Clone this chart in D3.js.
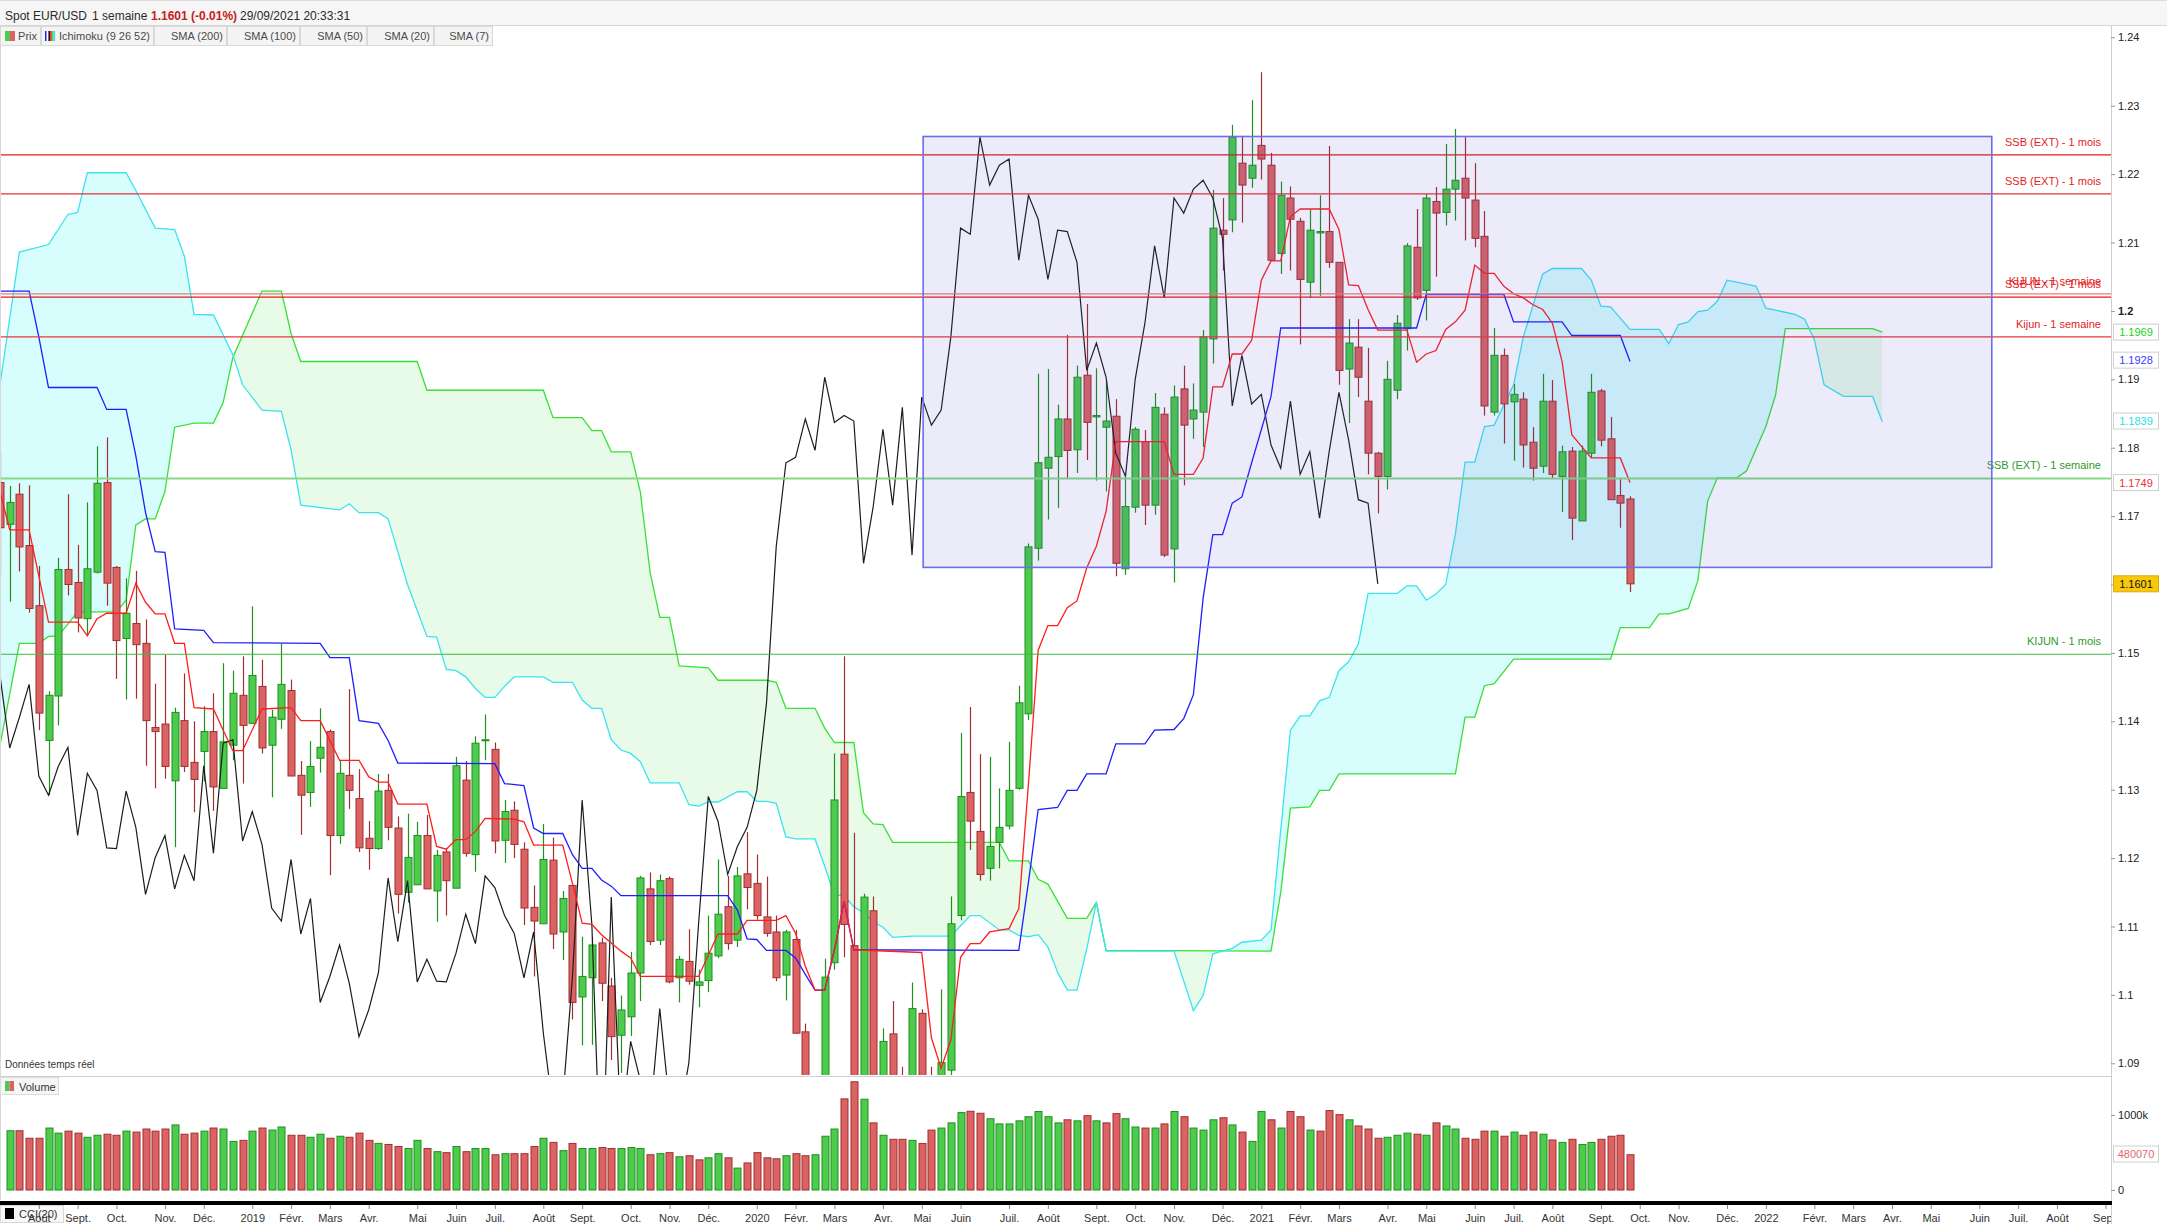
<!DOCTYPE html>
<html>
<head>
<meta charset="utf-8">
<script src="https://cdn.jsdelivr.net/npm/d3@7"></script>
<style>
  body { margin: 0; background: #fff; }
  svg { display: block; font-family: "Liberation Sans", Arial, sans-serif; }
</style>
</head>
<body>
<div id="chart"></div>
<script>
(function () {
    // weekly bars, index 0 = week of 9 July 2018
    const firstWeek = new Date(2018, 6, 9);

    const opens = [1.1749,1.1688,1.1732,1.1657,1.1569,1.1372,1.1437,1.1622,1.1603,1.1550,
        1.1618,1.1749,1.1625,1.1521,1.1543,1.1514,1.1391,1.1396,1.1313,1.1401,
        1.1340,1.1356,1.1385,1.1302,1.1365,1.1438,1.1397,1.1451,1.1365,1.1403,
        1.1445,1.1321,1.1296,1.1346,1.1385,1.1233,1.1321,1.1287,1.1229,1.1214,
        1.1299,1.1244,1.1150,1.1161,1.1233,1.1152,1.1209,1.1156,1.1314,1.1205,
        1.1372,1.1359,1.1226,1.1270,1.1213,1.1128,1.1104,1.1197,1.1092,1.1160,
        1.0997,1.1025,1.1076,1.1013,1.0941,1.0968,1.1032,1.1155,1.1080,1.1170,
        1.1025,1.1049,1.1014,1.1021,1.1057,1.1129,1.1080,1.1177,1.1163,1.1114,
        1.1092,1.1029,1.1081,1.0946,1.0831,1.0845,1.1047,1.1352,1.1072,1.0692,
        1.1123,1.0800,1.0943,1.0875,1.0822,1.0973,1.0840,1.0818,1.0890,1.1116,
        1.1296,1.1239,1.1185,1.1223,1.1247,1.1302,1.1411,1.1653,1.1770,1.1787,
        1.1842,1.1797,1.1906,1.1845,1.1830,1.1846,1.1623,1.1713,1.1809,1.1716,
        1.1849,1.1652,1.1886,1.1842,1.1852,1.1959,1.2118,1.2133,1.2216,1.2194,
        1.2242,1.2213,1.2084,1.2165,1.2131,1.2042,1.2114,1.2116,1.2071,1.1915,
        1.1947,1.1868,1.1792,1.1758,1.1884,1.1974,1.2093,1.2030,1.2160,1.2144,
        1.2178,1.2194,1.2162,1.2109,1.1852,1.1935,1.1867,1.1871,1.1808,1.1773,
        1.1868,1.1758,1.1795,1.1693,1.1792,1.1883,1.1813,1.1730,1.1725];

    const highs = [1.1791,1.1744,1.1748,1.1745,1.1627,1.1444,1.1639,1.1732,1.1658,1.1720,
        1.1802,1.1815,1.1627,1.1609,1.1620,1.1549,1.1455,1.1497,1.1420,1.1470,
        1.1400,1.1422,1.1441,1.1485,1.1474,1.1495,1.1568,1.1490,1.1417,1.1513,
        1.1461,1.1342,1.1371,1.1419,1.1388,1.1343,1.1447,1.1330,1.1254,1.1323,
        1.1323,1.1261,1.1265,1.1253,1.1263,1.1212,1.1215,1.1348,1.1342,1.1378,
        1.1410,1.1369,1.1285,1.1283,1.1223,1.1160,1.1250,1.1230,1.1152,1.1161,
        1.1085,1.1085,1.1084,1.1025,1.0999,1.1063,1.1174,1.1179,1.1176,1.1173,
        1.1057,1.1096,1.1037,1.1116,1.1198,1.1174,1.1187,1.1238,1.1205,1.1173,
        1.1116,1.1095,1.1095,1.0958,1.0863,1.1053,1.1353,1.1495,1.1237,1.1148,
        1.1144,1.0951,1.0991,1.0895,1.1018,1.0979,1.0895,1.1008,1.1144,1.1383,
        1.1421,1.1352,1.1348,1.1302,1.1370,1.1452,1.1660,1.1908,1.1915,1.1863,
        1.1965,1.1920,1.2010,1.1916,1.1899,1.1871,1.1758,1.1830,1.1826,1.1880,
        1.1859,1.1891,1.1920,1.1894,1.1972,1.2177,1.2165,1.2272,1.2256,1.2308,
        1.2349,1.2231,1.2189,1.2182,1.2136,1.2148,1.2169,1.2241,1.2071,1.1988,
        1.1988,1.1946,1.1794,1.1927,1.1994,1.2099,1.2149,1.2171,1.2181,1.2244,
        1.2266,1.2254,1.2216,1.2146,1.1975,1.1945,1.1893,1.1881,1.1830,1.1908,
        1.1899,1.1803,1.1801,1.1803,1.1908,1.1886,1.1845,1.1755,1.1729];

    const lows = [1.1614,1.1575,1.1619,1.1559,1.1387,1.1292,1.1394,1.1584,1.1530,1.1525,
        1.1616,1.1569,1.1462,1.1432,1.1433,1.1335,1.1302,1.1316,1.1216,1.1326,
        1.1267,1.1312,1.1269,1.1302,1.1343,1.1309,1.1397,1.1353,1.1289,1.1389,
        1.1320,1.1234,1.1275,1.1325,1.1175,1.1221,1.1272,1.1209,1.1183,1.1212,
        1.1226,1.1119,1.1135,1.1161,1.1155,1.1107,1.1116,1.1156,1.1202,1.1180,
        1.1343,1.1207,1.1193,1.1200,1.1102,1.1027,1.1104,1.1067,1.1051,1.0964,
        1.0926,1.0927,1.0991,1.0905,1.0886,1.0940,1.0991,1.1073,1.1073,1.1017,
        1.0989,1.1015,1.0982,1.1004,1.1054,1.1066,1.1070,1.1125,1.1110,1.1085,
        1.1020,1.0992,1.0943,1.0827,1.0778,1.0840,1.1037,1.1055,1.0636,1.0636,
        1.0768,1.0770,1.0815,1.0727,1.0810,1.0782,1.0775,1.0810,1.0870,1.1109,
        1.1212,1.1167,1.1167,1.1185,1.1242,1.1300,1.1402,1.1635,1.1695,1.1712,
        1.1754,1.1763,1.1782,1.1752,1.1736,1.1612,1.1614,1.1705,1.1687,1.1702,
        1.1640,1.1603,1.1745,1.1813,1.1801,1.1923,1.2059,1.2115,1.2129,1.2180,
        1.2192,1.2074,1.2054,1.2059,1.1951,1.2019,1.2022,1.2063,1.1892,1.1836,
        1.1874,1.1761,1.1704,1.1739,1.1871,1.1942,1.2016,1.1986,1.2050,1.2125,
        1.2132,1.2103,1.2093,1.1847,1.1847,1.1806,1.1781,1.1771,1.1752,1.1763,
        1.1754,1.1706,1.1665,1.1693,1.1785,1.1802,1.1724,1.1683,1.1589];

    const closes = [1.1683,1.1720,1.1655,1.1565,1.1412,1.1438,1.1622,1.1600,1.1551,1.1623,
        1.1748,1.1602,1.1518,1.1558,1.1512,1.1401,1.1385,1.1334,1.1413,1.1334,
        1.1315,1.1385,1.1304,1.1370,1.1441,1.1394,1.1467,1.1361,1.1406,1.1454,
        1.1320,1.1292,1.1334,1.1362,1.1233,1.1324,1.1299,1.1215,1.1214,1.1298,
        1.1245,1.1147,1.1201,1.1233,1.1155,1.1204,1.1167,1.1335,1.1207,1.1368,
        1.1373,1.1225,1.1268,1.1220,1.1127,1.1108,1.1198,1.1089,1.1141,1.0989,
        1.1027,1.1073,1.1017,1.0939,1.0978,1.1032,1.1171,1.1078,1.1167,1.1019,
        1.1052,1.1020,1.1019,1.1061,1.1118,1.1075,1.1174,1.1157,1.1116,1.1090,
        1.1025,1.1092,1.0944,1.0831,1.0846,1.1026,1.1285,1.1103,1.0692,1.1143,
        1.0800,1.0932,1.0875,1.0822,1.0980,1.0840,1.0818,1.0901,1.1104,1.1290,
        1.1254,1.1176,1.1217,1.1245,1.1299,1.1427,1.1655,1.1778,1.1786,1.1842,
        1.1796,1.1903,1.1837,1.1847,1.1839,1.1631,1.1714,1.1827,1.1716,1.1859,
        1.1643,1.1874,1.1833,1.1855,1.1962,1.2121,1.2112,1.2254,1.2184,1.2213,
        1.2222,1.2074,1.2169,1.2134,1.2046,1.2118,1.2116,1.2071,1.1913,1.1953,
        1.1903,1.1792,1.1758,1.1900,1.1982,1.2095,1.2019,1.2165,1.2143,1.2178,
        1.2191,1.2165,1.2106,1.1861,1.1935,1.1864,1.1878,1.1804,1.1770,1.1868,
        1.1761,1.1794,1.1697,1.1795,1.1881,1.1811,1.1724,1.1719,1.1601];

    // volume in thousands, weeks 1..168
    const volumes = [790,790,690,690,826,758,785,758,703,730,
        744,730,785,772,813,785,813,868,744,758,
        785,826,813,648,662,785,826,799,840,730,
        730,703,744,690,717,703,758,662,621,607,
        580,553,662,553,511,498,580,511,553,553,
        470,484,484,484,580,690,635,525,621,553,
        553,566,553,553,566,553,470,484,498,443,
        457,402,429,484,429,292,361,498,429,416,
        457,484,457,470,717,813,1215,1443,1210,895,
        730,676,676,662,621,799,826,895,1032,1050,
        1023,950,881,881,922,977,1046,977,895,936,
        922,991,922,895,1018,950,840,826,826,881,
        1046,977,826,799,936,963,868,772,648,1046,
        936,826,1046,977,799,785,1059,1005,936,854,
        813,690,703,730,758,744,730,895,854,813,
        690,676,785,785,717,772,730,772,744,667,
        635,676,607,635,676,717,730,470];
    const volumeUp = "GRRRGGRRGG" + "RRGRRRRGRR" + "GRGGRGRGGR" + "RGGRGRRRGR" +
        "RGGRGRGRGG" + "RGRRRGRGRG" + "GRRGGGRGRG" + "RRGGRGRRRR" +
        "GRRGGGRRGR" + "GRRGRRGGGR" + "RGGGGGGGGR" + "GRGRRGGRGR" +
        "GRGGGRGRGG" + "RGRRGRRRGR" + "RRGGGRGRGG" + "RRRGRGRRGR" + "GRGGRRRR";

    // Ichimoku, as [week index, value] vertices
    const tenkan = [[0,1.1736],[1,1.1680],[3,1.1680],[5,1.1545],[8,1.1545],[9,1.1525],[10,1.1550],[11,1.1558],
        [13,1.1558],[14,1.1602],[15,1.1574],[16,1.1557],[17,1.1557],[18,1.1514],[19,1.1514],[20,1.1420],
        [22,1.1418],[23,1.1387],[24,1.1357],[25,1.1357],[27,1.1418],[30,1.1420],[31,1.1401],[33,1.1401],
        [35,1.1343],[37,1.1343],[38,1.1319],[39,1.1311],[40,1.1311],[41,1.1279],[44,1.1279],[45,1.1217],
        [46,1.1213],[47,1.1227],[48,1.1227],[49,1.1239],[50,1.1258],[53,1.1257],[54,1.1253],[55,1.1219],
        [58,1.1219],[59,1.1163],[60,1.1105],[61,1.1103],[62,1.1088],[64,1.1064],[65,1.1054],[66,1.1027],
        [72,1.1027],[74,1.1089],[76,1.1089],[77,1.1109],[80,1.1109],[81,1.1116],[82,1.1090],[83,1.1042],
        [84,1.1007],[85,1.1007],[86,1.1066],[87,1.1137],[88,1.1066],[95,1.1062],[96,1.0937],[97,1.0893],
        [98,1.0934],[99,1.1055],[100,1.1075],[101,1.1075],[102,1.1092],[104,1.1097],[105,1.1126],[106,1.1309],
        [107,1.1504],[108,1.1540],[109,1.1540],[110,1.1566],[111,1.1576],[112,1.1624],[113,1.1656],[114,1.1707],
        [115,1.1809],[120,1.1809],[121,1.1761],[123,1.1761],[124,1.1785],[125,1.1889],[126,1.1889],[127,1.1937],
        [128,1.1937],[129,1.1957],[130,1.2045],[131,1.2073],[132,1.2073],[133,1.2138],[134,1.2149],[137,1.2149],
        [138,1.2119],[139,1.2038],[140,1.2037],[141,1.2002],[142,1.1972],[145,1.1972],[146,1.1925],[147,1.1937],
        [148,1.1942],[149,1.1973],[150,1.1984],[151,1.2001],[152,1.2067],[153,1.2055],[154,1.2055],[155,1.2036],
        [156,1.2025],[157,1.2019],[158,1.2009],[159,1.2002],[160,1.1982],[161,1.1926],[162,1.1819],[163,1.1802],
        [164,1.1785],[167,1.1785],[168,1.1749]];

    const kijun = [[0,1.2029],[3,1.2029],[4,1.1962],[5,1.1888],[10,1.1888],[11,1.1856],[13,1.1856],[14,1.1788],
        [15,1.1705],[16,1.1648],[17,1.1647],[18,1.1535],[21,1.1533],[22,1.1515],[33,1.1514],[34,1.1493],
        [36,1.1493],[37,1.1401],[39,1.1397],[40,1.1372],[41,1.1339],[51,1.1338],[52,1.1309],[54,1.1306],
        [55,1.1244],[56,1.1236],[58,1.1236],[59,1.1205],[60,1.1185],[61,1.1185],[62,1.1168],[63,1.1159],
        [64,1.1145],[75,1.1145],[76,1.1124],[77,1.1082],[78,1.1081],[79,1.1065],[81,1.1065],[82,1.1054],
        [83,1.1030],[84,1.1007],[85,1.1007],[86,1.1066],[87,1.1137],[88,1.1066],[105,1.1065],[106,1.1165],
        [107,1.1271],[109,1.1274],[110,1.1299],[111,1.1299],[112,1.1323],[114,1.1323],[115,1.1367],[118,1.1367],
        [119,1.1387],[121,1.1388],[122,1.1404],[123,1.1439],[124,1.1580],[125,1.1673],[126,1.1673],[127,1.1719],
        [128,1.1728],[129,1.1778],[131,1.1875],[132,1.1975],[146,1.1975],[147,1.2024],[155,1.2024],[156,1.1984],
        [161,1.1984],[162,1.1964],[167,1.1964],[168,1.1926]];

    const spanA = [[0,1.1365],[2,1.1514],[4,1.1514],[5,1.1524],[6,1.1525],[7,1.1542],[8,1.1560],[12,1.1560],
        [13,1.1577],[14,1.1687],[15,1.1696],[16,1.1696],[17,1.1736],[18,1.1830],[20,1.1836],[22,1.1836],
        [23,1.1866],[24,1.1932],[27,1.2029],[29,1.2029],[30,1.1967],[31,1.1926],[43,1.1926],[44,1.1884],
        [56,1.1884],[57,1.1844],[60,1.1844],[61,1.1825],[62,1.1825],[63,1.1794],[65,1.1794],[66,1.1735],
        [67,1.1618],[68,1.1552],[69,1.1552],[70,1.1481],[73,1.1478],[74,1.1460],[79,1.1460],[80,1.1457],
        [81,1.1419],[84,1.1419],[85,1.1390],[86,1.1369],[88,1.1369],[89,1.1266],[90,1.1250],[91,1.1249],
        [92,1.1223],[103,1.1223],[104,1.1196],[106,1.1196],[107,1.1169],[108,1.1162],[110,1.1112],[112,1.1112],
        [113,1.1135],[114,1.1065],[131,1.1064],[132,1.1150],[133,1.1273],[135,1.1275],[136,1.1299],[137,1.1299],
        [138,1.1323],[150,1.1323],[151,1.1406],[152,1.1406],[153,1.1452],[154,1.1455],[156,1.1491],[166,1.1491],
        [167,1.1537],[170,1.1537],[171,1.1557],[172,1.1557],[174,1.1565],[175,1.1606],[176,1.1722],[177,1.1756],
        [179,1.1756],[180,1.1766],[182,1.1831],[183,1.1877],[184,1.1974],[193,1.1974],[194,1.1969]];

    const spanB = [[0,1.1892],[2,1.2086],[5,1.2097],[7,1.2141],[8,1.2144],[9,1.2202],[13,1.2202],[14,1.2176],
        [16,1.2121],[18,1.2119],[19,1.2080],[20,1.1995],[22,1.1994],[24,1.1936],[25,1.1892],[27,1.1855],
        [29,1.1853],[30,1.1797],[31,1.1716],[35,1.1709],[36,1.1718],[37,1.1705],[39,1.1705],[40,1.1696],
        [42,1.1600],[44,1.1524],[45,1.1523],[46,1.1476],[47,1.1474],[48,1.1465],[49,1.1448],[50,1.1435],
        [51,1.1435],[52,1.1451],[53,1.1465],[56,1.1465],[57,1.1457],[59,1.1457],[60,1.1431],[61,1.1419],
        [62,1.1419],[63,1.1373],[64,1.1358],[65,1.1353],[66,1.1341],[67,1.1310],[70,1.1310],[71,1.1278],
        [72,1.1276],[73,1.1282],[74,1.1282],[76,1.1297],[77,1.1297],[78,1.1283],[79,1.1283],[80,1.1280],
        [81,1.1231],[82,1.1228],[84,1.1228],[85,1.1188],[86,1.1146],[87,1.1145],[88,1.1129],[89,1.1120],
        [90,1.1107],[91,1.1099],[92,1.1084],[94,1.1086],[98,1.1086],[99,1.1101],[100,1.1116],[101,1.1116],
        [103,1.1095],[104,1.1095],[105,1.1087],[106,1.1085],[107,1.1088],[108,1.1070],[109,1.1033],[110,1.1007],
        [111,1.1007],[112,1.1067],[113,1.1135],[114,1.1064],[121,1.1064],[123,1.0977],[124,1.0999],[125,1.1060],
        [127,1.1068],[128,1.1077],[130,1.1080],[131,1.1095],[133,1.1387],[134,1.1408],[135,1.1408],[136,1.1430],
        [137,1.1435],[138,1.1474],[139,1.1487],[140,1.1513],[141,1.1587],[144,1.1587],[145,1.1598],[146,1.1598],
        [147,1.1577],[148,1.1586],[149,1.1600],[150,1.1674],[151,1.1779],[152,1.1779],[153,1.1831],[154,1.1833],
        [156,1.1892],[157,1.1962],[159,1.2054],[160,1.2062],[163,1.2062],[164,1.2045],[165,1.2007],[166,1.2006],
        [168,1.1973],[171,1.1973],[172,1.1952],[173,1.1980],[174,1.1984],[175,1.1999],[176,1.2001],[177,1.2014],
        [178,1.2045],[180,1.2039],[181,1.2036],[182,1.2004],[185,1.1995],[186,1.1988],[187,1.1958],[188,1.1892],
        [190,1.1875],[193,1.1875],[194,1.1838]];

    const chikouShift = 26;

    // horizontal levels drawn on the chart
    const levelPrices = [1.2228, 1.2171, 1.2025, 1.2020, 1.1962, 1.1755, 1.1498];
    const levelLabels = ["SSB (EXT) - 1 mois", "SSB (EXT) - 1 mois", "KIJUN - 1 semaine",
        "SSB (EXT) - 1 mois", "Kijun - 1 semaine", "SSB (EXT) - 1 semaine", "KIJUN - 1 mois"];
    const levelColors = ["#e41b1b", "#e83232", "#f07a7a", "#e41b1b", "#e83a3a", "#88d888", "#3cb83c"];
    const levelTextColors = ["#e41b1b", "#e41b1b", "#e41b1b", "#e41b1b", "#e41b1b", "#2f9a2f", "#2f9a2f"];

    // zone rectangle
    const zoneDates = [new Date(2020, 3, 29), new Date(2022, 5, 9)];
    const zonePrices = [1.2255, 1.1625];

    // last values shown on the right scale
    const tagValues = ["1.1969", "1.1928", "1.1839", "1.1749", "1.1601"];
    const tagColors = ["#19d219", "#3a3aff", "#1fe0e8", "#f03030", "#111"];

    const headerParts = ["Spot EUR/USD", "1 semaine", "1.1601 (-0.01%)", "29/09/2021 20:33:31"];
    const legendLabels = ["Prix", "Ichimoku (9 26 52)", "SMA (200)", "SMA (100)", "SMA (50)", "SMA (20)", "SMA (7)"];
    const frMonths = ["", "Févr.", "Mars", "Avr.", "Mai", "Juin", "Juil.", "Août", "Sept.", "Oct.", "Nov.", "Déc."];

    const W = 2167, H = 1224, plotRight = 2111;
    const paneTop = 26, paneBottom = 1075;
    const volTop = 1077, volBottom = 1199;
    const font = "'Liberation Sans', Arial, sans-serif";
    const upFill = "#4ccb4c", upStroke = "#1f8f1f";
    const downFill = "#db6363", downStroke = "#a12f2f";

    const x = d3.scaleTime()
        .domain([new Date(2018, 6, 3), new Date(2022, 8, 3)])
        .range([0, plotRight]);
    // each weekly bar sits in the slot that ends on its Monday
    const slot = monday => d3.timeDay.offset(monday, -6);
    const weekDate = k => slot(d3.timeDay.offset(firstWeek, 7 * k));
    const bx = k => x(weekDate(k));
    const y = d3.scaleLinear().domain([1.09, 1.24]).range([1063.3, 37.3]);
    const yv = d3.scaleLinear().domain([0, 1000]).range([1190, 1115]);

    const svg = d3.select("#chart").append("svg")
        .attr("width", W)
        .attr("height", H)
        .style("font-family", font);

    const defs = svg.append("defs");
    defs.append("clipPath").attr("id", "clipPrice").append("rect")
        .attr("x", 0).attr("y", paneTop).attr("width", plotRight).attr("height", paneBottom - paneTop);
    defs.append("clipPath").attr("id", "clipVol").append("rect")
        .attr("x", 0).attr("y", volTop).attr("width", plotRight).attr("height", volBottom - volTop);
    defs.append("clipPath").attr("id", "clipAxis").append("rect")
        .attr("x", 0).attr("y", 1200).attr("width", plotRight).attr("height", 30);

    const areaDown = d3.area().x(d => bx(d[0])).y0(paneBottom + 5).y1(d => y(d[1]));
    const areaUp = d3.area().x(d => bx(d[0])).y0(paneTop - 5).y1(d => y(d[1]));
    defs.append("clipPath").attr("id", "belowA").append("path").attr("d", areaDown(spanA));
    defs.append("clipPath").attr("id", "belowB").append("path").attr("d", areaDown(spanB));

    const pane = svg.append("g").attr("clip-path", "url(#clipPrice)");

    // kumo
    pane.append("g").attr("clip-path", "url(#belowA)")
        .append("path").attr("d", areaUp(spanB)).attr("fill", "#e8fbe8");
    pane.append("g").attr("clip-path", "url(#belowB)")
        .append("path").attr("d", areaUp(spanA)).attr("fill", "#d8fdfd");

    const line = d3.line().x(d => bx(d[0])).y(d => y(d[1]));
    pane.append("path").datum(spanA).attr("d", line)
        .attr("fill", "none").attr("stroke", "#36e236").attr("stroke-width", 1.3);
    pane.append("path").datum(spanB).attr("d", line)
        .attr("fill", "none").attr("stroke", "#3be3f0").attr("stroke-width", 1.3);

    // candles
    const idx = d3.range(opens.length);
    const candles = pane.append("g");
    candles.selectAll("line")
        .data(idx)
        .enter()
        .append("line")
        .attr("x1", k => Math.round(bx(k)) + 0.5)
        .attr("x2", k => Math.round(bx(k)) + 0.5)
        .attr("y1", k => y(highs[k]))
        .attr("y2", k => y(lows[k]))
        .attr("stroke", k => closes[k] >= opens[k] ? upStroke : downStroke)
        .attr("stroke-width", 1.2);
    candles.selectAll("rect")
        .data(idx)
        .enter()
        .append("rect")
        .attr("x", k => Math.round(bx(k)) - 3)
        .attr("width", 7)
        .attr("y", k => y(Math.max(opens[k], closes[k])))
        .attr("height", k => Math.max(1, Math.abs(y(opens[k]) - y(closes[k]))))
        .attr("fill", k => closes[k] >= opens[k] ? upFill : downFill)
        .attr("stroke", k => closes[k] >= opens[k] ? upStroke : downStroke)
        .attr("stroke-width", 1);

    // tenkan, kijun, chikou
    const chikou = d3.range(0, closes.length - chikouShift).map(k => [k, closes[k + chikouShift]]);
    pane.append("path").datum(chikou).attr("d", line)
        .attr("fill", "none").attr("stroke", "#1c1c1c").attr("stroke-width", 1.2);
    pane.append("path").datum(kijun).attr("d", line)
        .attr("fill", "none").attr("stroke", "#1e1eff").attr("stroke-width", 1.3);
    pane.append("path").datum(tenkan).attr("d", line)
        .attr("fill", "none").attr("stroke", "#ff1e1e").attr("stroke-width", 1.3);

    // horizontal levels
    levelPrices.forEach((p, i) => {
        pane.append("line")
            .attr("x1", 0).attr("x2", plotRight)
            .attr("y1", y(p)).attr("y2", y(p))
            .attr("stroke", levelColors[i])
            .attr("stroke-width", i === 5 ? 1.8 : 1.2);
        pane.append("text")
            .attr("x", 2101)
            .attr("y", y(p) - 9)
            .attr("text-anchor", "end")
            .attr("font-size", 11)
            .attr("fill", levelTextColors[i])
            .text(levelLabels[i]);
    });

    // zone rectangle
    pane.append("rect")
        .attr("x", x(zoneDates[0]))
        .attr("y", y(zonePrices[0]))
        .attr("width", x(zoneDates[1]) - x(zoneDates[0]))
        .attr("height", y(zonePrices[1]) - y(zonePrices[0]))
        .attr("fill", "rgba(70,70,210,0.11)")
        .attr("stroke", "#6c6cec")
        .attr("stroke-width", 1.6);

    pane.append("text")
        .attr("x", 5).attr("y", 1068)
        .attr("font-size", 10).attr("fill", "#333")
        .text("Données temps réel");

    // volume pane
    const vol = svg.append("g").attr("clip-path", "url(#clipVol)");
    vol.selectAll("rect")
        .data(volumes)
        .enter()
        .append("rect")
        .attr("x", (v, i) => Math.round(bx(i + 1)) - 3)
        .attr("width", 7)
        .attr("y", v => yv(v))
        .attr("height", v => yv(0) - yv(v))
        .attr("fill", (v, i) => volumeUp[i] === "G" ? upFill : downFill)
        .attr("stroke", (v, i) => volumeUp[i] === "G" ? upStroke : downStroke)
        .attr("stroke-width", 1);

    // frames
    svg.append("line").attr("x1", 0).attr("x2", plotRight).attr("y1", 1076.5).attr("y2", 1076.5)
        .attr("stroke", "#cfcfcf");
    svg.append("line").attr("x1", 0.5).attr("x2", 0.5).attr("y1", paneTop).attr("y2", 1200)
        .attr("stroke", "#d8d8d8");
    svg.append("line").attr("x1", plotRight + 0.5).attr("x2", plotRight + 0.5).attr("y1", paneTop).attr("y2", H)
        .attr("stroke", "#cfcfcf");
    svg.append("rect").attr("x", 0).attr("y", 1201).attr("width", plotRight + 1).attr("height", 4)
        .attr("fill", "#000");

    // header
    svg.append("rect").attr("x", 0).attr("y", 0).attr("width", W).attr("height", paneTop).attr("fill", "#f6f6f6");
    svg.append("line").attr("x1", 0).attr("x2", W).attr("y1", 0.5).attr("y2", 0.5).attr("stroke", "#dcdcdc");
    svg.append("line").attr("x1", 0).attr("x2", W).attr("y1", paneTop - 0.5).attr("y2", paneTop - 0.5)
        .attr("stroke", "#d6d6d6");
    const header = svg.append("text").attr("x", 5).attr("y", 19.5).attr("font-size", 12).attr("fill", "#2a2a2a");
    header.append("tspan").text(headerParts[0]);
    header.append("tspan").attr("x", 92).text(headerParts[1]);
    header.append("tspan").attr("x", 151).attr("font-weight", "bold").attr("fill", "#c62020").text(headerParts[2]);
    header.append("tspan").attr("x", 240).text(headerParts[3]);

    // legend chips
    const chipEdges = [0, 41, 154, 227, 300, 367, 434, 493];
    legendLabels.forEach((label, i) => {
        const x0 = chipEdges[i], x1 = chipEdges[i + 1];
        svg.append("rect").attr("x", x0 + 0.5).attr("y", paneTop + 0.5).attr("width", x1 - x0 - 1).attr("height", 19)
            .attr("fill", "#f4f4f4").attr("stroke", "#d9d9d9");
        svg.append("text").attr("x", x1 - 4).attr("y", paneTop + 14).attr("text-anchor", "end")
            .attr("font-size", 11).attr("fill", "#4a4a4a").text(label);
    });
    svg.append("rect").attr("x", 5).attr("y", paneTop + 5).attr("width", 5).attr("height", 10).attr("fill", "#4ccb4c");
    svg.append("rect").attr("x", 10).attr("y", paneTop + 5).attr("width", 5).attr("height", 10).attr("fill", "#db6363");
    ["#1e1eff", "#fff", "#1c1c1c", "#ff1e1e", "#36e236", "#3be3f0"].forEach((c, i) => {
        svg.append("rect").attr("x", 45 + i * 1.7).attr("y", paneTop + 5).attr("width", 1.7).attr("height", 10)
            .attr("fill", c);
    });

    // volume legend
    svg.append("rect").attr("x", 0.5).attr("y", 1077.5).attr("width", 58).attr("height", 17)
        .attr("fill", "#f6f6f6").attr("stroke", "#dcdcdc");
    svg.append("rect").attr("x", 5).attr("y", 1081).attr("width", 4.5).attr("height", 10).attr("fill", "#4ccb4c");
    svg.append("rect").attr("x", 9.5).attr("y", 1081).attr("width", 4.5).attr("height", 10).attr("fill", "#db6363");
    svg.append("text").attr("x", 19).attr("y", 1090.5).attr("font-size", 11).attr("fill", "#333").text("Volume");

    // right price scale
    const fmtPrice = d => d3.format(".2f")(d).replace(/0$/, "");
    const gy = svg.append("g")
        .attr("transform", `translate(${plotRight},0)`)
        .call(d3.axisRight(y).tickValues(d3.range(109, 125).map(v => v / 100)).tickSize(4).tickFormat(fmtPrice));
    gy.select(".domain").remove();
    gy.selectAll("line").attr("stroke", "#999");
    gy.selectAll("text").attr("font-size", 11).attr("fill", "#222").attr("font-family", font)
        .attr("font-weight", d => Math.abs(d - 1.2) < 1e-9 ? "bold" : "normal");

    const gv = svg.append("g")
        .attr("transform", `translate(${plotRight},0)`)
        .call(d3.axisRight(yv).tickValues([0, 1000]).tickSize(4).tickFormat(d => d ? "1000k" : "0"));
    gv.select(".domain").remove();
    gv.selectAll("line").attr("stroke", "#999");
    gv.selectAll("text").attr("font-size", 11).attr("fill", "#222").attr("font-family", font);

    // value tags
    tagValues.forEach((t, i) => {
        const cy = y(+t);
        const last = i === tagValues.length - 1;
        svg.append("rect").attr("x", plotRight + 2.5).attr("y", cy - 8).attr("width", 45).attr("height", 16)
            .attr("fill", last ? "#f8c90a" : "#fff")
            .attr("stroke", last ? "#e0a800" : "#d0d0d0");
        svg.append("text").attr("x", plotRight + 25).attr("y", cy + 4).attr("text-anchor", "middle")
            .attr("font-size", 11).attr("fill", tagColors[i]).text(t);
    });
    const lastVol = 480.07;
    svg.append("rect").attr("x", plotRight + 2.5).attr("y", yv(lastVol) - 8).attr("width", 45).attr("height", 16)
        .attr("fill", "#fff").attr("stroke", "#d0d0d0");
    svg.append("text").attr("x", plotRight + 25).attr("y", yv(lastVol) + 4).attr("text-anchor", "middle")
        .attr("font-size", 11).attr("fill", "#e26a6a").text("480070");

    // CCI chip
    svg.append("rect").attr("x", 0.5).attr("y", 1205.5).attr("width", 63).attr("height", 17)
        .attr("fill", "#f8f8f8").attr("stroke", "#d8d8d8");
    svg.append("rect").attr("x", 5).attr("y", 1208).attr("width", 9).attr("height", 11).attr("fill", "#000");
    svg.append("text").attr("x", 19).attr("y", 1218).attr("font-size", 11).attr("fill", "#333").text("CCI(20)");

    // time axis: one tick on the first weekly bar of every month
    const months = d3.timeMonth.range(new Date(2018, 7, 1), new Date(2022, 9, 1));
    const monthTicks = months.map(m => slot(d3.timeMonday.ceil(m)));
    const tickLabel = d => {
        const m = d3.timeDay.offset(d, 6);
        return m.getMonth() === 0 ? String(m.getFullYear()) : frMonths[m.getMonth()];
    };
    const gx = svg.append("g").attr("clip-path", "url(#clipAxis)")
        .append("g")
        .attr("transform", "translate(0,1205)")
        .call(d3.axisBottom(x).tickValues(monthTicks).tickSize(4).tickFormat(tickLabel));
    gx.select(".domain").remove();
    gx.selectAll("line").attr("stroke", "#888");
    gx.selectAll("text").attr("font-size", 11).attr("fill", "#333").attr("font-family", font).attr("dy", "0.9em");
})();
</script>
</body>
</html>
